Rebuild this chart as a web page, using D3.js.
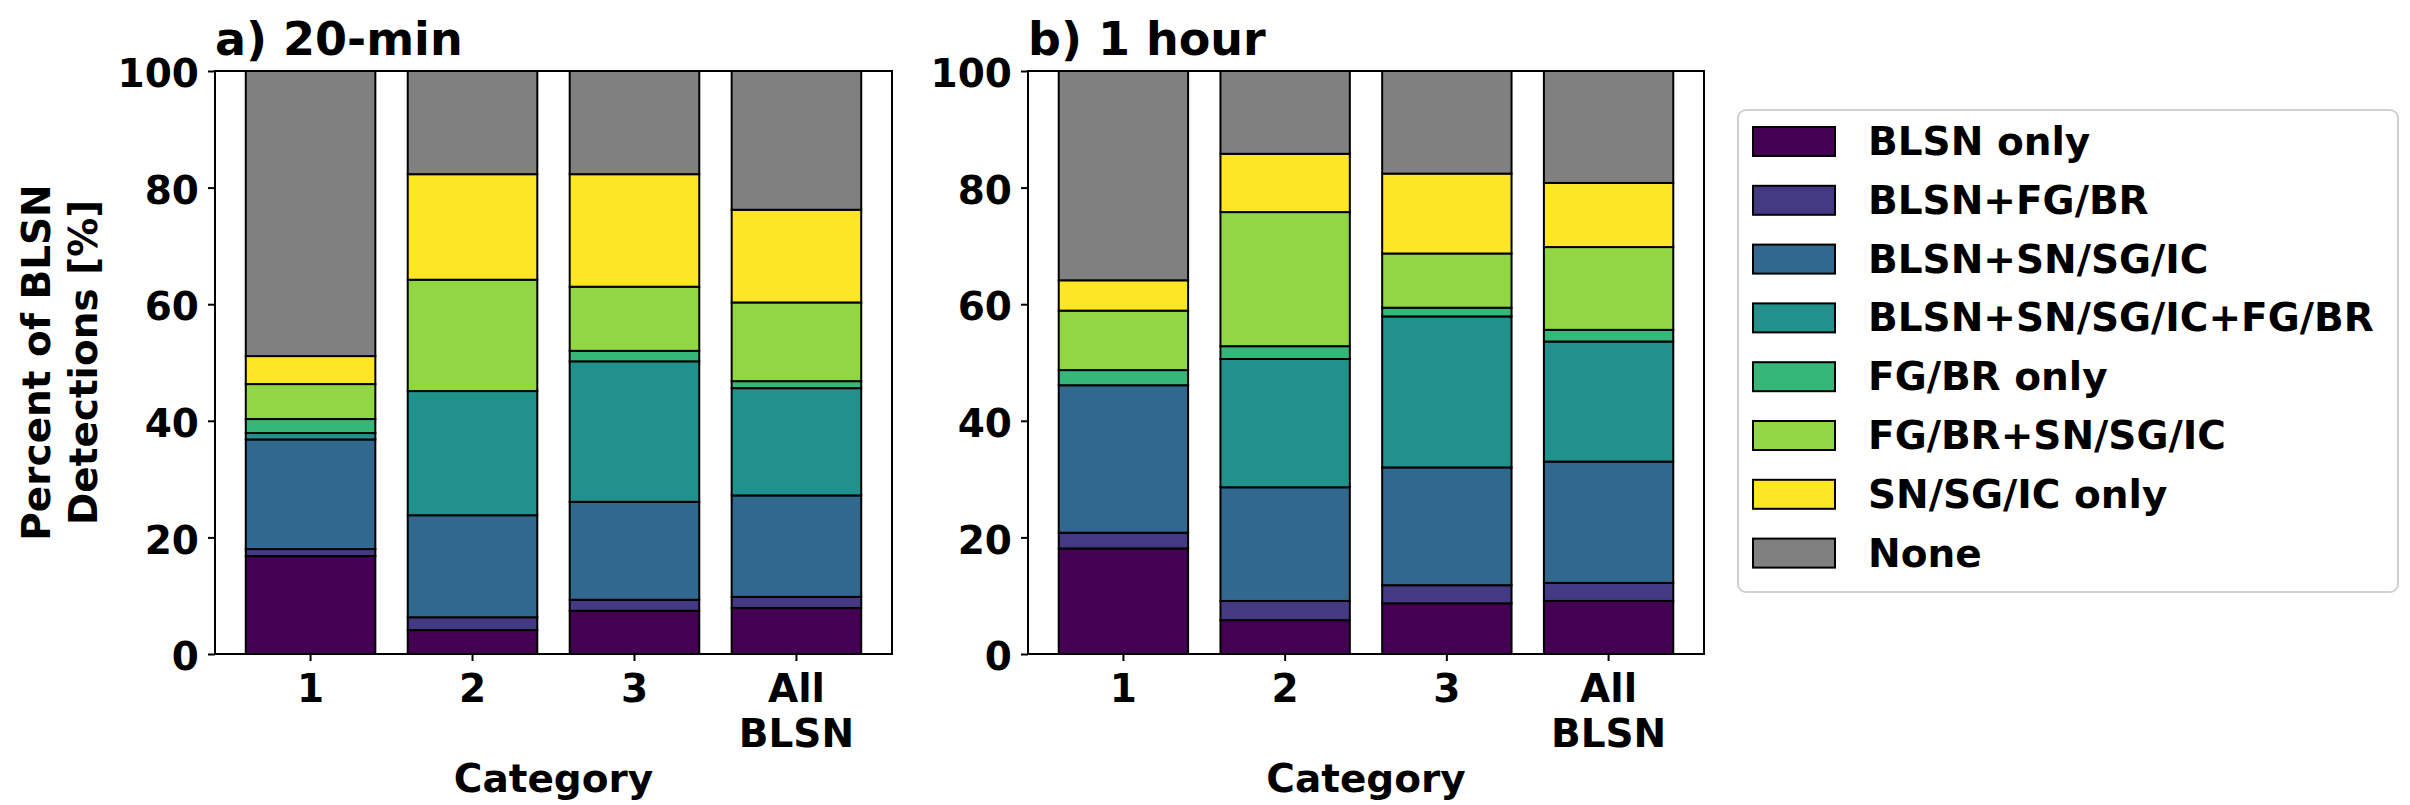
<!DOCTYPE html>
<html>
<head>
<meta charset="utf-8">
<script src="https://cdn.jsdelivr.net/npm/d3@7"></script>
<style>
  html, body { margin: 0; padding: 0; background: #ffffff; }
  svg { display: block; }
  text { font-family: "DejaVu Sans", sans-serif; font-weight: bold; fill: #000; }
</style>
</head>
<body>
<svg id="chart" width="2410" height="805"></svg>
<script>
// ---------- data ----------
const categories = ["1", "2", "3", "All\nBLSN"];
const seriesNames = ["BLSN only", "BLSN+FG/BR", "BLSN+SN/SG/IC", "BLSN+SN/SG/IC+FG/BR",
                     "FG/BR only", "FG/BR+SN/SG/IC", "SN/SG/IC only", "None"];
const seriesColors = ["#440154", "#443983", "#31688e", "#21918c",
                      "#35b779", "#90d743", "#fde725", "#808080"];
const yTicks = [0, 20, 40, 60, 80, 100];
const panelTitles = ["a) 20-min", "b) 1 hour"];
const xLabel = "Category";
const yLabelLines = ["Percent of BLSN", "Detections [%]"];

// values per series, one number per category (percent)
const min20_blsnOnly   = [16.8, 4.1, 7.4, 7.9];
const min20_blsnFg     = [1.2, 2.2, 1.9, 1.9];
const min20_blsnSn     = [18.8, 17.5, 16.8, 17.4];
const min20_blsnSnFg   = [1.1, 21.3, 24.1, 18.4];
const min20_fgOnly     = [2.4, 0.0, 1.8, 1.2];
const min20_fgSn       = [6.0, 19.1, 11.0, 13.5];
const min20_snOnly     = [4.8, 18.1, 19.3, 15.9];
const min20_none       = [48.9, 17.7, 17.7, 23.8];

const hour1_blsnOnly   = [18.1, 5.8, 8.7, 9.1];
const hour1_blsnFg     = [2.7, 3.3, 3.1, 3.1];
const hour1_blsnSn     = [25.3, 19.5, 20.2, 20.8];
const hour1_blsnSnFg   = [0.0, 22.0, 25.9, 20.6];
const hour1_fgOnly     = [2.6, 2.2, 1.5, 2.0];
const hour1_fgSn       = [10.2, 23.0, 9.3, 14.2];
const hour1_snOnly     = [5.2, 10.0, 13.7, 11.0];
const hour1_none       = [35.9, 14.2, 17.6, 19.2];

const panelSeries = [
  [min20_blsnOnly, min20_blsnFg, min20_blsnSn, min20_blsnSnFg, min20_fgOnly, min20_fgSn, min20_snOnly, min20_none],
  [hour1_blsnOnly, hour1_blsnFg, hour1_blsnSn, hour1_blsnSnFg, hour1_fgOnly, hour1_fgSn, hour1_snOnly, hour1_none]
];

// ---------- layout ----------
const svg = d3.select("#chart");
const FS = 39;
const panels = [
  {left: 215, right: 892},
  {left: 1028, right: 1704}
];
const plotTop = 71, plotBottom = 654;

const y = d3.scaleLinear().domain([0, 100]).range([plotBottom, plotTop]);

panels.forEach((p, pi) => {
  const table = categories.map((c, ci) => {
    const row = {cat: c};
    seriesNames.forEach((s, si) => { row[s] = panelSeries[pi][si][ci]; });
    return row;
  });
  const stacked = d3.stack().keys(seriesNames)(table);

  const x = d3.scaleLinear().domain([-0.59, categories.length - 1 + 0.59]).range([p.left, p.right]);
  const bw = x(0.4) - x(-0.4);

  const g = svg.append("g");

  stacked.forEach((layer, si) => {
    g.append("g").selectAll("rect")
      .data(layer)
      .join("rect")
      .attr("x", (d, i) => x(i) - bw / 2)
      .attr("width", bw)
      .attr("y", d => y(d[1]))
      .attr("height", d => Math.max(0, y(d[0]) - y(d[1])))
      .attr("fill", seriesColors[si])
      .attr("stroke", "#000")
      .attr("stroke-width", 2);
  });

  const yAxis = d3.axisLeft(y).tickValues(yTicks).tickSize(7).tickPadding(9);
  const ya = g.append("g").attr("transform", `translate(${p.left},0)`).call(yAxis);
  ya.select(".domain").remove();
  ya.selectAll(".tick line").attr("stroke", "#000").attr("stroke-width", 2);
  ya.selectAll(".tick text").style("font-size", FS + "px").style("font-family", "DejaVu Sans").style("font-weight", "bold")
    .attr("dy", "0.4em");

  const xa = g.append("g");
  categories.forEach((c, ci) => {
    xa.append("line")
      .attr("x1", x(ci)).attr("x2", x(ci))
      .attr("y1", plotBottom).attr("y2", plotBottom + 7)
      .attr("stroke", "#000").attr("stroke-width", 2);
    const t = xa.append("text")
      .attr("text-anchor", "middle")
      .attr("x", x(ci))
      .attr("y", 702)
      .style("font-size", FS + "px");
    c.split("\n").forEach((line, li) => {
      t.append("tspan").attr("x", x(ci)).attr("dy", li === 0 ? 0 : 45).text(line);
    });
  });

  g.append("rect")
    .attr("x", p.left).attr("y", plotTop)
    .attr("width", p.right - p.left).attr("height", plotBottom - plotTop)
    .attr("fill", "none").attr("stroke", "#000").attr("stroke-width", 2);

  g.append("text")
    .attr("x", p.left).attr("y", 55)
    .style("font-size", "46px")
    .text(panelTitles[pi]);

  g.append("text")
    .attr("x", (p.left + p.right) / 2).attr("y", 792)
    .attr("text-anchor", "middle")
    .style("font-size", FS + "px")
    .text(xLabel);
});

const yl = svg.append("text")
  .attr("transform", `translate(0,${(plotTop + plotBottom) / 2}) rotate(-90)`)
  .attr("text-anchor", "middle")
  .style("font-size", FS + "px");
yLabelLines.forEach((line, li) => {
  yl.append("tspan").attr("x", 0).attr("y", li === 0 ? 50 : 96.7).text(line);
});

const lg = svg.append("g");
lg.append("rect")
  .attr("x", 1738).attr("y", 110)
  .attr("width", 660).attr("height", 482)
  .attr("rx", 8).attr("ry", 8)
  .attr("fill", "#fff").attr("stroke", "#d0d0d0").attr("stroke-width", 2);
seriesNames.forEach((s, i) => {
  const yy = 127 + i * 58.8;
  lg.append("rect")
    .attr("x", 1753).attr("y", yy)
    .attr("width", 82).attr("height", 29)
    .attr("fill", seriesColors[i]).attr("stroke", "#000").attr("stroke-width", 2);
  lg.append("text")
    .attr("x", 1868).attr("y", yy + 28)
    .style("font-size", FS + "px")
    .text(s);
});
</script>
</body>
</html>
